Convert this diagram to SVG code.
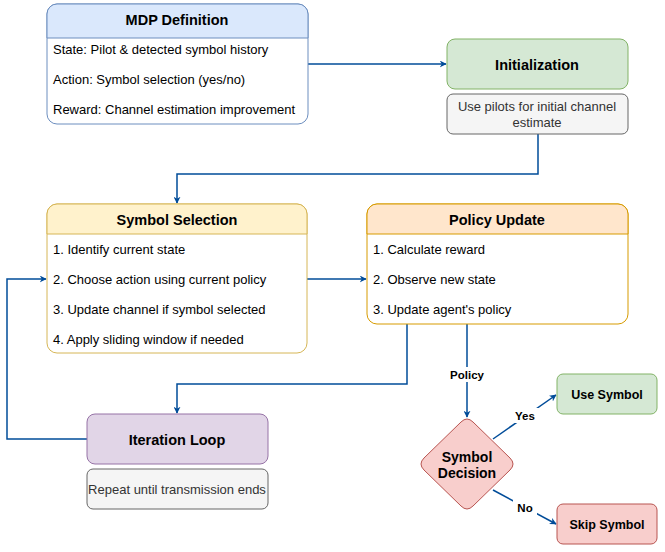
<svg xmlns="http://www.w3.org/2000/svg" width="665" height="552" viewBox="0 0 665 552">
<defs>
<style>
text{font-family:"Liberation Sans",Arial,Helvetica,sans-serif;}
.t{font-size:14.5px;font-weight:bold;fill:#000;text-anchor:middle;}
.i{font-size:13px;fill:#000;}
.s{font-size:13px;fill:#333;text-anchor:middle;}
.l{font-size:11.5px;font-weight:bold;fill:#000;text-anchor:middle;}
.c{fill:none;stroke:#004C99;stroke-width:1.5;}
.sub{fill:#f5f5f5;stroke:#666666;stroke-width:1;}
</style>
<marker id="a" viewBox="0 0 10 10" refX="9" refY="5" markerWidth="7" markerHeight="7" markerUnits="userSpaceOnUse" orient="auto">
<path d="M0,0 L10,5 L0,10 L3,5 z" fill="#004C99"/>
</marker>
</defs>
<rect width="665" height="552" fill="#ffffff"/>

<g id="connectors">
<path class="c" d="M308,64 H446" marker-end="url(#a)"/>
<path class="c" d="M538,134 V174 H177 V203" marker-end="url(#a)"/>
<path class="c" d="M307,279 H366" marker-end="url(#a)"/>
<path class="c" d="M407,324 V384 H177 V413" marker-end="url(#a)"/>
<path class="c" d="M467,324 V417" marker-end="url(#a)"/>
<path class="c" d="M87,439 H7 V279 H46" marker-end="url(#a)"/>
<path class="c" d="M493,439 L556,395" marker-end="url(#a)"/>
<path class="c" d="M493,490 L556,524" marker-end="url(#a)"/>
<rect x="446" y="367" width="42" height="15" fill="#ffffff"/>
<text class="l" x="467" y="379">Policy</text>
<rect x="511" y="408" width="28" height="15" fill="#ffffff"/>
<text class="l" x="525" y="420">Yes</text>
<rect x="513" y="500" width="24" height="15" fill="#ffffff"/>
<text class="l" x="525" y="512">No</text>
</g>

<g id="mdp">
<rect x="47" y="4" width="261" height="120" rx="10" fill="#ffffff" stroke="#6c8ebf"/>
<path d="M47,38 V14 A10,10 0 0 1 57,4 H298 A10,10 0 0 1 308,14 V38 Z" fill="#dae8fc" stroke="#6c8ebf"/>
<text class="t" x="177" y="25">MDP Definition</text>
<text class="i" x="53" y="54">State: Pilot &amp; detected symbol history</text>
<text class="i" x="53" y="84">Action: Symbol selection (yes/no)</text>
<text class="i" x="53" y="114">Reward: Channel estimation improvement</text>
</g>

<g id="init">
<rect x="447" y="39" width="181" height="50" rx="8" fill="#d5e8d4" stroke="#82b366"/>
<text class="t" x="537" y="70">Initialization</text>
</g>
<g id="init-note">
<rect class="sub" x="447" y="94" width="181" height="40" rx="6"/>
<text class="s" x="537" y="111">Use pilots for initial channel</text>
<text class="s" x="537" y="127">estimate</text>
</g>

<g id="symsel">
<rect x="47" y="204" width="260" height="149" rx="10" fill="#ffffff" stroke="#d6b656"/>
<path d="M47,234 V214 A10,10 0 0 1 57,204 H297 A10,10 0 0 1 307,214 V234 Z" fill="#fff2cc" stroke="#d6b656"/>
<text class="t" x="177" y="225">Symbol Selection</text>
<text class="i" x="53" y="254">1. Identify current state</text>
<text class="i" x="53" y="284">2. Choose action using current policy</text>
<text class="i" x="53" y="314">3. Update channel if symbol selected</text>
<text class="i" x="53" y="344">4. Apply sliding window if needed</text>
</g>

<g id="policy">
<rect x="367" y="204" width="261" height="120" rx="10" fill="#ffffff" stroke="#d79b00"/>
<path d="M367,234 V214 A10,10 0 0 1 377,204 H618 A10,10 0 0 1 628,214 V234 Z" fill="#ffe6cc" stroke="#d79b00"/>
<text class="t" x="497" y="225">Policy Update</text>
<text class="i" x="373" y="254">1. Calculate reward</text>
<text class="i" x="373" y="284">2. Observe new state</text>
<text class="i" x="373" y="314">3. Update agent's policy</text>
</g>

<g id="loop">
<rect x="87" y="414" width="181" height="50" rx="8" fill="#e1d5e7" stroke="#9673a6"/>
<text class="t" x="177" y="445">Iteration Loop</text>
</g>
<g id="loop-note">
<rect class="sub" x="87" y="469" width="181" height="40" rx="6"/>
<text class="s" x="177" y="494">Repeat until transmission ends</text>
</g>

<g id="decision">
<path d="M461,422 Q467,416 473,422 L510,458 Q516,464 510,470 L473,506 Q467,512 461,506 L424,470 Q418,464 424,458 Z" fill="#f8cecc" stroke="#b85450"/>
<text class="t" style="font-size:14px" x="467" y="462">Symbol</text>
<text class="t" style="font-size:14px" x="467" y="478">Decision</text>
</g>

<g id="use">
<rect x="557" y="374" width="100" height="40" rx="6" fill="#d5e8d4" stroke="#82b366"/>
<text class="l" style="font-size:12.5px" x="607" y="399">Use Symbol</text>
</g>

<g id="skip">
<rect x="557" y="504" width="100" height="40" rx="6" fill="#f8cecc" stroke="#b85450"/>
<text class="l" style="font-size:12.5px" x="607" y="529">Skip Symbol</text>
</g>
</svg>
